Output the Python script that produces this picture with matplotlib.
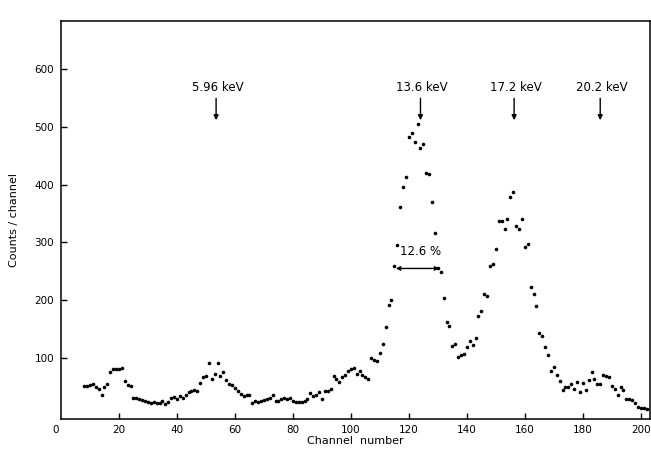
import numpy as np
import matplotlib
matplotlib.use("Agg")
import matplotlib.pyplot as plt

# counts per channel (channels 8..202)
first_channel = 8
counts = [
    51, 51, 53, 54, 50, 46, 36, 49, 54, 75, 80, 80, 80, 82, 60, 53, 51,   # 8-24
    31, 30, 29, 27, 25, 23, 22, 24, 21, 22, 25, 20, 24, 30, 33, 29, 34,   # 25-41
    31, 35, 40, 42, 45, 43, 56, 66, 69, 91, 63, 72, 91, 69, 75, 61, 55,   # 42-58
    53, 48, 43, 38, 34, 36, 35, 22, 26, 24, 25, 27, 29, 31, 36, 26, 25,   # 59-75
    29, 30, 28, 31, 26, 24, 24, 23, 26, 29, 39, 34, 36, 40, 29, 43, 42,   # 76-92
    46, 68, 64, 58, 67, 71, 77, 81, 82, 72, 77, 70, 66, 63, 99, 97, 95,   # 93-109
    108, 124, 153, 191, 200, 260, 295, 362, 396, 413, 483, 490, 475,      # 110-122
    505, 463, 471, 420, 418, 370, 317, 255, 248, 204, 163, 155, 120,      # 123-135
    124, 101, 105, 107, 118, 129, 122, 134, 173, 182, 210, 207, 260,      # 136-148
    262, 288, 337, 337, 324, 340, 379, 388, 329, 324, 340, 293, 297,      # 149-161
    222, 211, 190, 143, 138, 119, 105, 78, 84, 71, 60, 44, 50, 50, 54,    # 162-176
    46, 58, 41, 57, 44, 62, 75, 63, 54, 54, 70, 69, 66, 52, 46, 36, 49,   # 177-193
    44, 29, 28, 27, 22, 14, 13, 13, 12,                                   # 194-202
]
channels = np.arange(first_channel, first_channel + len(counts))

peak_labels = ["5.96 keV", "13.6 keV", "17.2 keV", "20.2 keV"]
peak_channels = [53.5, 124, 156.3, 186]
xticks = [20, 40, 60, 80, 100, 120, 140, 160, 180, 200]
yticks = [100, 200, 300, 400, 500, 600]

fig = plt.figure(figsize=(6.51, 4.53), dpi=100)
ax = fig.add_axes([61 / 651, 34 / 453, 588.5 / 651, 398 / 453])

ax.plot(channels, counts, "o", color="black", ms=2.6, mec="none")

ax.set_xlim(0, 203)
ax.set_ylim(-6, 684)
ax.set_xticks(xticks)
ax.set_yticks(yticks)
ax.tick_params(direction="in", length=4.5, width=1, labelsize=7.5)
ax.tick_params(axis="y", pad=5)
ax.tick_params(axis="x", pad=4)
for sp in ax.spines.values():
    sp.set_linewidth(1.1)
ax.text(-0.004, -0.014, "0", transform=ax.transAxes, ha="right", va="top", fontsize=7.5)

ax.set_ylabel("Counts / channel", fontsize=8, labelpad=11)
ax.set_xlabel("Channel  number", fontsize=8, labelpad=1)

for lab, ch in zip(peak_labels, peak_channels):
    ax.text(ch + 0.5, 569, lab, ha="center", va="center", fontsize=8.5)
    ax.annotate("", xy=(ch, 512), xytext=(ch, 550),
                arrowprops=dict(arrowstyle="-|>", lw=1, color="black",
                                mutation_scale=7, shrinkA=0, shrinkB=0))

# FWHM marker of the 13.6 keV peak
ax.annotate("", xy=(115.5, 255), xytext=(130.5, 255),
            arrowprops=dict(arrowstyle="<|-|>", lw=1, color="black",
                            mutation_scale=6, shrinkA=0, shrinkB=0))
ax.text(124, 284, "12.6 %", ha="center", va="center", fontsize=8.5)

fig.savefig("out.png", dpi=100)
